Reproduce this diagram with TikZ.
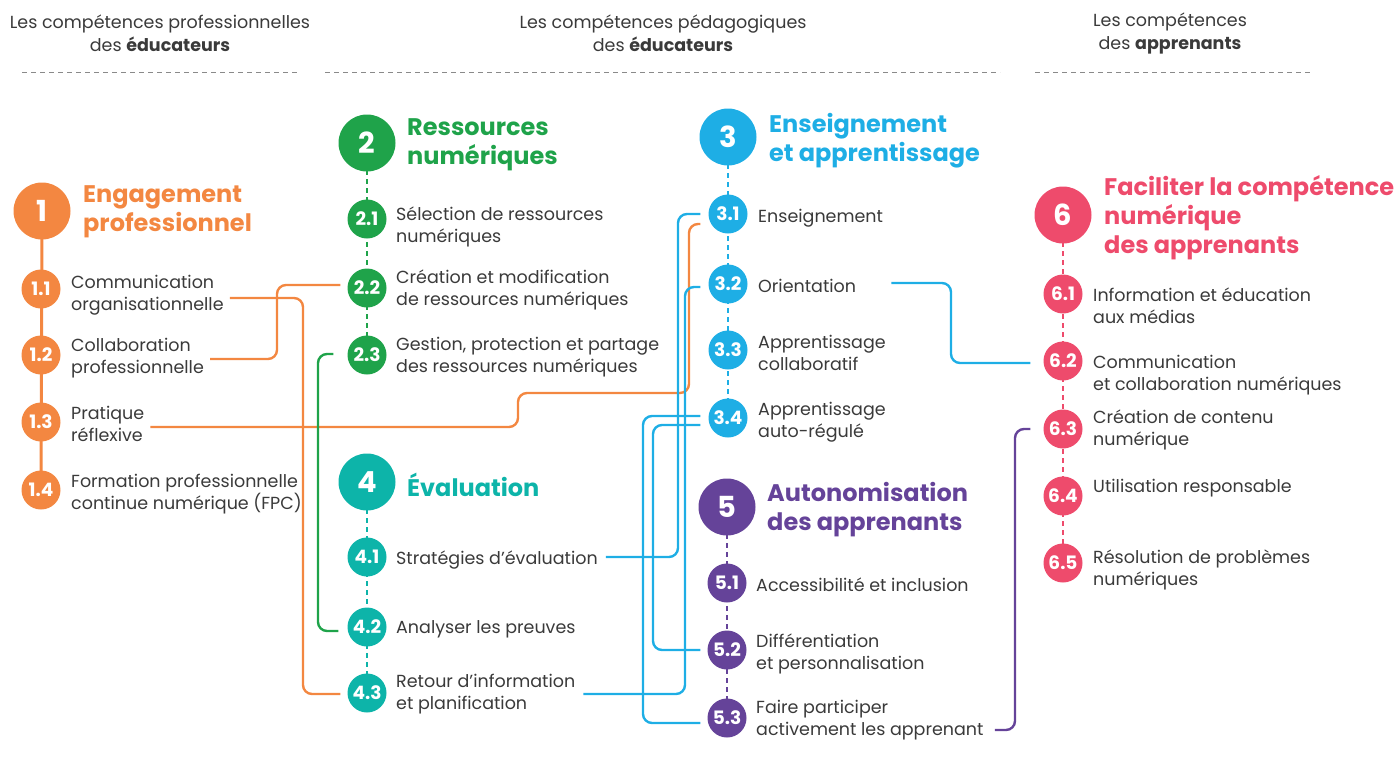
\documentclass[tikz,border=0pt]{standalone}
\usepackage{fontspec}
\setmainfont{Poppins}
\usetikzlibrary{calc,backgrounds}
\definecolor{cOr}{HTML}{F38741}
\definecolor{cGr}{HTML}{1FA34A}
\definecolor{cBl}{HTML}{1EAEE5}
\definecolor{cTe}{HTML}{0DB4A9}
\definecolor{cPu}{HTML}{654399}
\definecolor{cPk}{HTML}{EE4B6C}
\definecolor{txt}{HTML}{3A3A3A}
\definecolor{rule}{HTML}{8A8A8A}
\tikzset{
  bigdot/.style={circle, fill=#1, minimum size=57pt, inner sep=0pt, text=white,
    font=\bfseries\fontsize{29}{31}\selectfont},
  subdot/.style={circle, fill=#1, minimum size=39pt, inner sep=0pt, text=white,
    font=\bfseries\fontsize{18.5}{20}\selectfont},
  itemtxt/.style={anchor=west, align=left, text=txt, inner sep=0pt, yshift=-2pt,
    font=\fontsize{17.5}{22}\selectfont},
  headtxt/.style={anchor=west, align=left, text=#1, inner sep=0pt, yshift=-2pt,
    font=\bfseries\fontsize{24}{29}\selectfont},
  coltitle/.style={align=center, text=txt, inner sep=0pt,
    font=\fontsize{17.5}{23}\selectfont},
  link/.style={draw=#1, line width=2.4pt, rounded corners=9pt},
  stem/.style={draw=#1, line width=2.4pt, dash pattern=on 5pt off 4pt},
  solidstem/.style={draw=#1, line width=3pt},
  sepline/.style={draw=rule, line width=1pt, dash pattern=on 5pt off 4pt}
}
\begin{document}
\begin{tikzpicture}[x=1pt,y=-1pt]
\useasboundingbox (0,0) rectangle (1398,758);

% column titles
\node[coltitle] (h1) at (160,33) {Les compétences professionnelles\\des \textbf{éducateurs}};
\node[coltitle] (h2) at (663,33) {Les compétences pédagogiques\\des \textbf{éducateurs}};
\node[coltitle] (h3) at (1170,33) {Les compétences\\des \textbf{apprenants}};
\draw[sepline] (22,72) -- (298,72);
\draw[sepline] (325,72) -- (1000,72);
\draw[sepline] (1035,72) -- (1310,72);

% 1 Engagement professionnel
\node[bigdot=cOr] (c1) at (42,211) {1};
\node[headtxt=cOr] (g1) at (83,210) {Engagement\\professionnel};
\node[subdot=cOr] (s11) at (41,289) {1.1};
\node[subdot=cOr] (s12) at (41,355) {1.2};
\node[subdot=cOr] (s13) at (41,422) {1.3};
\node[subdot=cOr] (s14) at (41,490) {1.4};
\node[itemtxt] (t11) at (71,293) {Communication\\organisationnelle};
\node[itemtxt] (t12) at (71,356) {Collaboration\\professionnelle};
\node[itemtxt] (t13) at (71,422) {Pratique\\réflexive};
\node[itemtxt] (t14) at (71,492) {Formation professionnelle\\continue numérique (FPC)};

% 2 Ressources numériques
\node[bigdot=cGr] (c2) at (367,143) {2};
\node[headtxt=cGr] (g2) at (407,143) {Ressources\\numériques};
\node[subdot=cGr] (s21) at (367,219) {2.1};
\node[subdot=cGr] (s22) at (367,288) {2.2};
\node[subdot=cGr] (s23) at (367,355) {2.3};
\node[itemtxt] (t21) at (396,225) {Sélection de ressources\\numériques};
\node[itemtxt] (t22) at (396,288) {Création et modification\\de ressources numériques};
\node[itemtxt] (t23) at (396,355) {Gestion, protection et partage\\des ressources numériques};

% 3 Enseignement et apprentissage
\node[bigdot=cBl] (c3) at (728,137) {3};
\node[headtxt=cBl] (g3) at (769,139) {Enseignement\\et apprentissage};
\node[subdot=cBl] (s31) at (728,214) {3.1};
\node[subdot=cBl] (s32) at (728,284) {3.2};
\node[subdot=cBl] (s33) at (728,350) {3.3};
\node[subdot=cBl] (s34) at (728,418) {3.4};
\node[itemtxt] (t31) at (758,216) {Enseignement};
\node[itemtxt] (t32) at (758,284) {Orientation};
\node[itemtxt] (t33) at (758,351) {Apprentissage\\collaboratif};
\node[itemtxt] (t34) at (758,420) {Apprentissage\\auto-régulé};

% 4 Evaluation
\node[bigdot=cTe] (c4) at (367,482) {4};
\node[headtxt=cTe] (g4) at (407,483) {Évaluation};
\node[subdot=cTe] (s41) at (367,557) {4.1};
\node[subdot=cTe] (s42) at (367,627) {4.2};
\node[subdot=cTe] (s43) at (367,693) {4.3};
\node[itemtxt] (t41) at (396,558) {Stratégies d’évaluation};
\node[itemtxt] (t42) at (396,627) {Analyser les preuves};
\node[itemtxt] (t43) at (396,692) {Retour d’information\\et planification};

% 5 Autonomisation des apprenants
\node[bigdot=cPu] (c5) at (727,507) {5};
\node[headtxt=cPu] (g5) at (767,508) {Autonomisation\\des apprenants};
\node[subdot=cPu] (s51) at (727,583) {5.1};
\node[subdot=cPu] (s52) at (727,650) {5.2};
\node[subdot=cPu] (s53) at (727,718) {5.3};
\node[itemtxt] (t51) at (756,583) {Accessibilité et inclusion};
\node[itemtxt] (t52) at (756,652) {Différentiation\\et personnalisation};
\node[itemtxt] (t53) at (756,718) {Faire participer\\activement les apprenant};

% 6 Faciliter la competence numerique des apprenants
\node[bigdot=cPk] (c6) at (1063,215) {6};
\node[headtxt=cPk] (g6) at (1104,216) {Faciliter la compétence\\numérique\\des apprenants};
\node[subdot=cPk] (s61) at (1063,294) {6.1};
\node[subdot=cPk] (s62) at (1063,361) {6.2};
\node[subdot=cPk] (s63) at (1063,429) {6.3};
\node[subdot=cPk] (s64) at (1063,496) {6.4};
\node[subdot=cPk] (s65) at (1063,563) {6.5};
\node[itemtxt] (t61) at (1093,304) {Information et éducation\\aux médias};
\node[itemtxt] (t62) at (1093,373) {Communication\\et collaboration numériques};
\node[itemtxt] (t63) at (1093,428) {Création de contenu\\numérique};
\node[itemtxt] (t64) at (1093,486) {Utilisation responsable};
\node[itemtxt] (t65) at (1093,568) {Résolution de problèmes\\numériques};

\begin{scope}[on background layer]
  % stems of each area
  \draw[solidstem=cOr] (c1.center) -- (s14.center);
  \draw[stem=cGr] (c2.center) -- (s23.center);
  \draw[stem=cBl] (c3.center) -- (s34.center);
  \draw[stem=cTe] (c4.center) -- (s43.center);
  \draw[stem=cPu] (c5.center) -- (s53.center);
  \draw[stem=cPk] (c6.center) -- (s65.center);
\end{scope}

% links between competences
\draw[link=cOr] ($(t11.east)+(6,3)$) -- (303,298) -- (303,694) -- ($(s43.west)+(-7,1)$);
\draw[link=cOr] ($(t12.east)+(6,1)$) -- (277,359) -- (277,285) -- ($(s22.west)+(-7,-3)$);
\draw[link=cOr] ($(t13.east)+(6,3)$) -- (518,427) -- (518,393) -- (689,393) -- (689,224) -- ($(s31.west)+(-8,10)$);
\draw[link=cGr] ($(s23.west)+(-14,-1)$) -- (318,354) -- (318,631) -- ($(s42.west)+(-9,4)$);
\draw[link=cBl] ($(s31.west)+(-8,0)$) -- (678,214) -- (678,557) -- ($(t41.east)+(8,-3)$);
\draw[link=cBl] ($(s32.west)+(-8,3)$) -- (685,287) -- (685,694) -- ($(t43.east)+(8,0)$);
\draw[link=cBl] ($(s34.west)+(-8,-2)$) -- (643,416) -- (643,723) -- ($(s53.west)+(-7,5)$);
\draw[link=cBl] ($(s34.west)+(-8,7)$) -- (653,425) -- (653,650) -- ($(s52.west)+(-7,0)$);
\draw[link=cBl] ($(t32.east)+(35,-3)$) -- (951,283) -- (951,363) -- ($(s62.west)+(-13,2)$);
\draw[link=cPu] ($(t53.east)+(11,10)$) -- (1015,730) -- (1015,429) -- ($(s63.west)+(-13,0)$);
\end{tikzpicture}
\end{document}
